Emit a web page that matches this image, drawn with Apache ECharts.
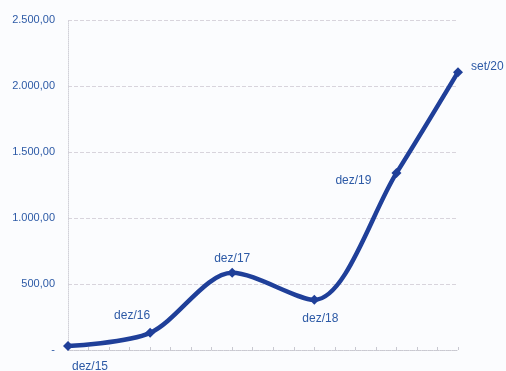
<!DOCTYPE html>
<html><head><meta charset="utf-8">
<script src="https://cdn.jsdelivr.net/npm/echarts@6/dist/echarts.min.js"></script>
<style>html,body{margin:0;padding:0;background:#fbfcfe}#c{width:506px;height:371px}</style>
</head><body><div id="c"></div>
<script>
const categories = ['dez/15','dez/16','dez/17','dez/18','dez/19','set/20'];
const monthsFromStart = [0, 12, 24, 36, 48, 57];
const values = [30, 130, 585, 380, 1340, 2105];
const yTicks = [0, 500, 1000, 1500, 2000, 2500];
const labelPos = ['bottom','top','top','bottom','left','right'];
const labelOffset = [[22,2],[-18,2],[0,5],[6,0],[-12,8],[0,-5]];

function fmt(v){
  if (v === 0) return '-';
  const s = v.toFixed(2).split('.');
  return s[0].replace(/\B(?=(\d{3})+(?!\d))/g, '.') + ',' + s[1];
}
const blue = '#2d5aa6';
const data = values.map((v,i)=>({
  value:[monthsFromStart[i], v],
  name: categories[i],
  label:{position:labelPos[i], offset: labelOffset[i]}
}));
const chart = echarts.init(document.getElementById('c'));
chart.setOption({
  animation:false,
  backgroundColor:'#fbfcfe',
  grid:{left:68,right:48,top:20,bottom:21,containLabel:false},
  xAxis:{type:'value',min:0,max:57,interval:3,
    axisLine:{show:true,lineStyle:{color:'#c8c8d0',type:'dotted',width:1}},
    axisTick:{show:true,length:3,inside:true,lineStyle:{color:'#c8c8d0'}},
    axisLabel:{show:false},splitLine:{show:false}},
  yAxis:{type:'value',min:yTicks[0],max:yTicks[yTicks.length-1],interval:500,
    axisLine:{show:true,lineStyle:{color:'#d0d0d8',type:'dotted'}},
    axisTick:{show:false},
    axisLabel:{formatter:v=>fmt(v),color:blue,fontFamily:'Liberation Sans, Arial',fontSize:11,margin:13},
    splitLine:{show:true,lineStyle:{color:'#d8d4dc',type:'dashed',width:1}}},
  series:[{type:'line',data:data,smooth:0.3,
    symbol:'diamond',symbolSize:10,
    lineStyle:{color:'#1f3f99',width:4.5},
    itemStyle:{color:'#1f3f99'},
    label:{show:true,formatter:p=>p.name,color:blue,fontFamily:'Liberation Sans, Arial',fontSize:12,distance:8}
  }]
});
</script></body></html>
